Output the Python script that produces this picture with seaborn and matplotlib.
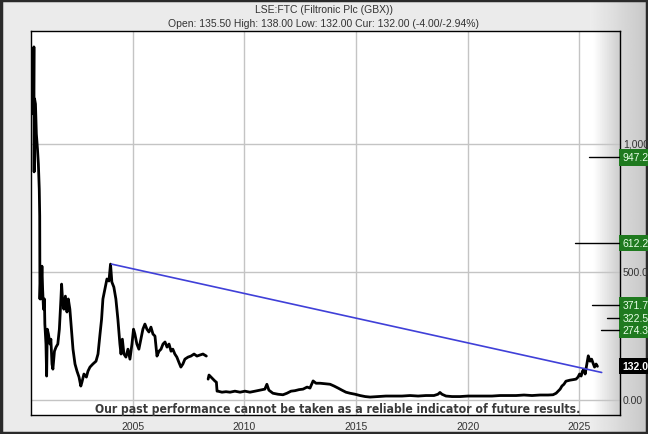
import numpy as np
import pandas as pd
import matplotlib
matplotlib.use('Agg')
from matplotlib import pyplot as plt
from matplotlib import font_manager as fm
from matplotlib.patches import Rectangle
import seaborn as sns

# price history, decimal year / pence (two pieces, gap in mid 2008)
years_a = [2000.56, 2000.58, 2000.59, 2000.61, 2000.65, 2000.69, 2000.74, 2000.78, 2000.82, 2000.84,
           2000.85, 2000.87, 2000.89, 2000.94, 2000.97, 2001.01, 2001.05, 2001.07, 2001.12, 2001.15,
           2001.18, 2001.23, 2001.30, 2001.34, 2001.39, 2001.43, 2001.50, 2001.57, 2001.65, 2001.72,
           2001.79, 2001.82, 2001.86, 2001.92, 2001.99, 2002.06, 2002.12, 2002.19, 2002.26, 2002.33,
           2002.42, 2002.51, 2002.60, 2002.68, 2002.73, 2002.82, 2002.93, 2003.00, 2003.09, 2003.22,
           2003.36, 2003.45, 2003.54, 2003.61, 2003.67, 2003.76, 2003.85, 2003.94, 2004.01, 2004.07,
           2004.16, 2004.25, 2004.34, 2004.43, 2004.48, 2004.54, 2004.61, 2004.70, 2004.79, 2004.88,
           2004.97, 2005.04, 2005.10, 2005.19, 2005.28, 2005.37, 2005.46, 2005.55, 2005.64, 2005.73,
           2005.82, 2005.91, 2006.00, 2006.09, 2006.18, 2006.27, 2006.36, 2006.45, 2006.54, 2006.63,
           2006.72, 2006.80, 2006.89, 2006.98, 2007.07, 2007.16, 2007.25, 2007.34, 2007.48, 2007.61,
           2007.75, 2007.88, 2008.01, 2008.15, 2008.30]
price_a = [1117, 1379, 891, 1176, 1156, 1039, 980, 922, 824, 719,
           395, 453, 395, 523, 434, 355, 395, 297, 219, 94,
           277, 258, 219, 238, 141, 121, 191, 207, 219, 277,
           395, 453, 395, 355, 406, 344, 395, 355, 277, 199,
           141, 113, 90, 55, 70, 102, 90, 113, 129, 141,
           152, 180, 258, 316, 395, 434, 473, 465, 531, 461,
           441, 395, 316, 219, 180, 238, 180, 168, 199, 160,
           219, 277, 258, 219, 199, 238, 277, 297, 277, 266,
           285, 258, 250, 172, 191, 199, 219, 227, 207, 219,
           191, 199, 180, 168, 148, 129, 141, 160, 168, 172,
           180, 172, 176, 180, 172]

years_b = [2008.38, 2008.42, 2008.51, 2008.60, 2008.69, 2008.75, 2008.78, 2008.82, 2009.00, 2009.18,
           2009.36, 2009.58, 2009.81, 2010.03, 2010.25, 2010.48, 2010.70, 2010.92, 2011.01, 2011.10,
           2011.28, 2011.51, 2011.73, 2011.91, 2012.09, 2012.27, 2012.45, 2012.63, 2012.81, 2012.94,
           2013.08, 2013.21, 2013.39, 2013.62, 2013.84, 2014.02, 2014.20, 2014.37, 2014.55, 2014.73,
           2014.96, 2015.18, 2015.41, 2015.63, 2015.99, 2016.34, 2016.70, 2017.06, 2017.42, 2017.78,
           2018.13, 2018.49, 2018.67, 2018.76, 2018.85, 2019.03, 2019.30, 2019.66, 2020.01, 2020.37,
           2020.73, 2021.09, 2021.45, 2021.81, 2022.17, 2022.52, 2022.88, 2023.24, 2023.60, 2023.82,
           2023.96, 2024.05, 2024.14, 2024.22, 2024.31, 2024.40, 2024.49, 2024.58, 2024.72, 2024.85,
           2024.94, 2025.01, 2025.08, 2025.14, 2025.21, 2025.26, 2025.32, 2025.40, 2025.48, 2025.55,
           2025.61, 2025.68, 2025.75, 2025.81]
price_b = [82, 98, 90, 82, 74, 70, 35, 35, 31, 33,
           31, 35, 31, 35, 31, 35, 39, 43, 62, 39,
           27, 23, 21, 27, 35, 37, 41, 43, 51, 47,
           75, 66, 66, 64, 62, 55, 47, 39, 31, 27,
           23, 18, 14, 12, 14, 16, 16, 16, 18, 16,
           18, 18, 23, 30, 23, 16, 14, 14, 16, 16,
           16, 16, 18, 18, 18, 20, 18, 20, 20, 21,
           27, 35, 43, 55, 62, 74, 76, 78, 80, 82,
           90, 102, 94, 113, 121, 102, 133, 173, 152, 160,
           145, 129, 141, 132]

trend_years = [2004.06, 2026.0]
trend_vals = [531, 108]

target_vals = [947.2, 612.2, 371.7, 322.5, 274.3]
target_from = [2025.45, 2024.80, 2025.55, 2026.25, 2025.95]
target_text = ["947.2", "612.2", "371.7", "322.5", "274.3"]
last_price = 132.0

year_ticks = [2005, 2010, 2015, 2020, 2025]
value_ticks = [0, 500, 1000]
value_labels = ["0.00", "500.0", "1,000"]

disclaimer = "Our past performance cannot be taken as a reliable indicator of future results."

df = pd.concat([
    pd.DataFrame({"year": years_a, "price": price_a, "seg": 0}),
    pd.DataFrame({"year": years_b, "price": price_b, "seg": 1}),
])

sns.set_theme(style="white")
plt.rcParams['font.family'] = ['Liberation Sans', 'DejaVu Sans']


def narrow_bold_font():
    # look for a condensed / narrow bold face, fall back to Liberation Sans bold
    picks = []
    for f in fm.fontManager.ttflist:
        name = f.name + " " + str(f.stretch) + " " + f.fname
        narrow = any(k in name.lower() for k in ("narrow", "condensed"))
        bold = (f.weight in ("bold", 700, "heavy") or
                (isinstance(f.weight, int) and f.weight >= 600))
        if narrow and bold:
            picks.append(f)
    if picks:
        picks.sort(key=lambda f: ("liberation" not in f.fname.lower(),
                                  "dejavu" not in f.fname.lower()))
        return fm.FontProperties(fname=picks[0].fname)
    return fm.FontProperties(family="Liberation Sans", weight="bold")


W, H = 648, 435
fig = plt.figure(figsize=(W / 100, H / 100), dpi=100)

# background frame
bg = fig.add_axes([0, 0, 1, 1])
bg.set_xlim(0, W)
bg.set_ylim(H, 0)
bg.axis("off")
grad = np.tile(np.linspace(0.93, 0.78, 60), (10, 1))
bg.imshow(np.full((10, 10), 0.92), cmap="gray", vmin=0, vmax=1, extent=[0, W, H, 0], aspect="auto")
bg.imshow(grad, cmap="gray", vmin=0, vmax=1, extent=[590, W, H, 0], aspect="auto")
bg.add_patch(Rectangle((1, 1), W - 2, H - 2, fill=False, ec="#2a2a2a", lw=2.5))

bg.text(W / 2, 10, "LSE:FTC (Filtronic Plc (GBX))", ha="center", va="center", fontsize=7.5, color="#333333")
bg.text(W / 2, 24, "Open: 135.50 High: 138.00 Low: 132.00 Cur: 132.00 (-4.00/-2.94%)",
        ha="center", va="center", fontsize=7.5, color="#333333")

x0, x1, y0, y1 = 31, 620, 32, 416
ax = fig.add_axes([x0 / W, 1 - y1 / H, (x1 - x0) / W, (y1 - y0) / H])
ax.set_facecolor("white")
xmin, xmax = 2000.45, 2026.82
ymin, ymax = -58, 1441
ax.set_xlim(xmin, xmax)
ax.set_ylim(ymin, ymax)

# light shading near the right edge of the plot
ax.imshow(np.tile(np.linspace(1.0, 0.80, 40), (4, 1)), cmap="gray", vmin=0, vmax=1,
          extent=[2025.6, xmax, ymin, ymax], aspect="auto", zorder=0)

for yr in year_ticks:
    ax.axvline(yr, color="#c4c4c4", lw=1, zorder=1)
for v in value_ticks:
    ax.axhline(v, color="#c4c4c4", lw=1, zorder=1)

sns.lineplot(data=df, x="year", y="price", units="seg", estimator=None, sort=False,
             color="black", lw=2.0, ax=ax, zorder=3)

sns.lineplot(x=trend_years, y=trend_vals, color="#4040d8", lw=1.2, ax=ax, zorder=4)

for v, start in zip(target_vals, target_from):
    ax.plot([start, xmax], [v, v], color="black", lw=1, zorder=4)

ax.set_xticks(year_ticks)
ax.set_xticklabels([str(y) for y in year_ticks], fontsize=7.5, color="#333333")
ax.tick_params(axis="x", length=0, pad=4)
ax.set_yticks([])
ax.set_xlabel("")
ax.set_ylabel("")
for s in ax.spines.values():
    s.set_color("black")
    s.set_linewidth(1)

# disclaimer: fit to ~485 px wide
fp = narrow_bold_font()
fp.set_size(12)
disc = ax.text(0.52, 0.018, disclaimer, transform=ax.transAxes, ha="center", va="center",
               fontproperties=fp, color="#3a3a3a", zorder=5)
renderer = fig.canvas.get_renderer()
wpx = disc.get_window_extent(renderer).width
size = min(13.0, 12 * 485 / wpx)
fp.set_size(size)
disc.set_fontproperties(fp)

# right-hand value labels
trans = ax.get_yaxis_transform()
for v, lab in zip(value_ticks, value_labels):
    ax.text(1.005, v, lab, transform=trans, ha="left", va="center", fontsize=7.5,
            color="#333333", clip_on=False)
box = dict(boxstyle="square,pad=0.3", fc="#1f7a1f", ec="none")
for v, lab in zip(target_vals, target_text):
    ax.text(1.004, v, lab, transform=trans, ha="left", va="center", fontsize=7.5,
            color="#e8ffe8", bbox=box, clip_on=False)
ax.text(1.004, last_price, "132.0", transform=trans, ha="left", va="center", fontsize=7.5,
        color="white", fontweight="bold", bbox=dict(boxstyle="square,pad=0.3", fc="black", ec="none"),
        clip_on=False)

fig.savefig("out.png", dpi=100)
